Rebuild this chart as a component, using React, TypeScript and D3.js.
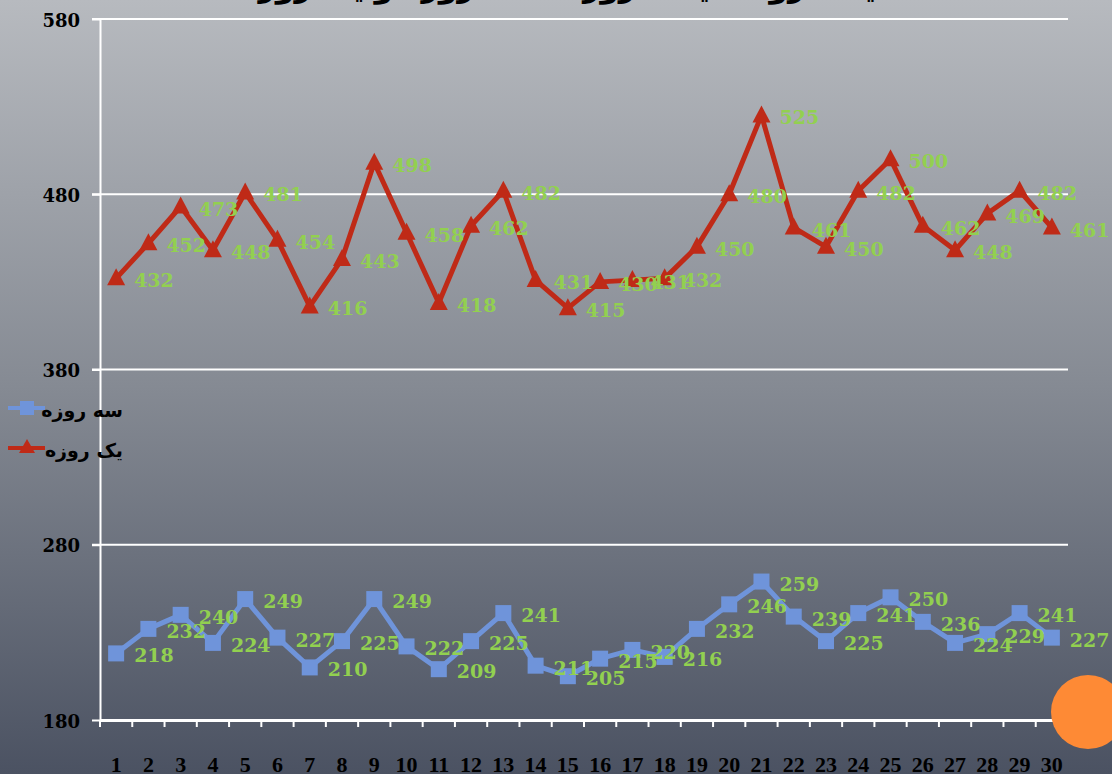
import React, { useRef, useEffect } from 'react';
import * as d3 from 'd3';

const days = d3.range(1, 31).map(String);
const oneDay = [432, 452, 473, 448, 481, 454, 416, 443, 498, 458, 418, 462, 482, 431, 415, 430, 431, 432, 450, 480, 525, 461, 450, 482, 500, 462, 448, 469, 482, 461];
const threeDay = [218, 232, 240, 224, 249, 227, 210, 225, 249, 222, 209, 225, 241, 211, 205, 215, 220, 216, 232, 246, 259, 239, 225, 241, 250, 236, 224, 229, 241, 227];
const yTicks = [180, 280, 380, 480, 580];
const seriesNames = ['سه روزه', 'یک روزه'];
const title = 'مقایسه روند قیمت روزانه سه روزه و یک روزه';

const App = () => {
  const ref = useRef(null);

  useEffect(() => {
    const svg = d3.select(ref.current);
    svg.selectAll('*').remove();
    const width = 1112;
    const height = 774;
    const left = 100, right = 1068, top = 19, bottom = 720;

    // background gradient
    const defs = svg.append('defs');
    const grad = defs.append('linearGradient').attr('id', 'bg').attr('x1', 0).attr('y1', 0).attr('x2', 0).attr('y2', 1);
    grad.append('stop').attr('offset', '0%').attr('stop-color', '#b7babf');
    grad.append('stop').attr('offset', '50%').attr('stop-color', '#858a93');
    grad.append('stop').attr('offset', '100%').attr('stop-color', '#4b5262');
    svg.append('rect').attr('width', width).attr('height', height).attr('fill', 'url(#bg)');

    const x = d3.scaleBand().domain(days).range([left, right]);
    const y = d3.scaleLinear().domain([180, 580]).range([bottom, top]);

    // title (cut off by the top edge)
    svg.append('text')
      .attr('x', 584).attr('y', -3)
      .attr('text-anchor', 'middle')
      .attr('font-family', 'DejaVu Sans').attr('font-weight', 'bold').attr('font-size', 30)
      .attr('fill', '#000')
      .text(title);

    // gridlines
    svg.append('g').selectAll('line').data(yTicks.filter(d => d > 180)).join('line')
      .attr('x1', left - 8).attr('x2', right)
      .attr('y1', d => y(d)).attr('y2', d => y(d))
      .attr('stroke', '#fff').attr('stroke-width', 2);

    // y axis
    const yAxis = svg.append('g').attr('transform', `translate(${left},0)`)
      .call(d3.axisLeft(y).tickValues(yTicks).tickSize(8).tickSizeOuter(0).tickPadding(12));
    yAxis.select('.domain').attr('stroke', '#fff').attr('stroke-width', 2);
    yAxis.selectAll('line').attr('stroke', '#fff').attr('stroke-width', 2);
    yAxis.selectAll('text')
      .attr('font-family', 'DejaVu Serif').attr('font-weight', 'bold').attr('font-size', 18)
      .attr('fill', '#000').attr('dy', '0.4em');

    // x axis
    const xAxis = svg.append('g').attr('transform', `translate(0,${bottom})`)
      .call(d3.axisBottom(x).tickSize(0).tickPadding(36));
    xAxis.select('.domain').attr('stroke', '#fff').attr('stroke-width', 3);
    xAxis.selectAll('text')
      .attr('font-family', 'Liberation Serif').attr('font-weight', 'bold').attr('font-size', 22)
      .attr('fill', '#000');
    svg.append('g').selectAll('line').data(d3.range(31)).join('line')
      .attr('x1', i => left + i * x.step()).attr('x2', i => left + i * x.step())
      .attr('y1', bottom).attr('y2', bottom + 7)
      .attr('stroke', '#fff').attr('stroke-width', 2);

    const cx = d => x(d) + x.bandwidth() / 2;

    const drawSeries = (values, color, marker) => {
      const line = d3.line().x((d, i) => cx(days[i])).y(d => y(d));
      svg.append('path').datum(values).attr('d', line)
        .attr('fill', 'none').attr('stroke', color).attr('stroke-width', 5).attr('stroke-linejoin', 'round');
      const g = svg.append('g');
      values.forEach((v, i) => {
        const px = cx(days[i]), py = y(v);
        if (marker === 'square') {
          g.append('rect').attr('x', px - 8).attr('y', py - 8).attr('width', 16).attr('height', 16).attr('fill', color);
        } else {
          g.append('path').attr('d', `M${px},${py - 10}L${px + 9},${py + 7}L${px - 9},${py + 7}Z`).attr('fill', color);
        }
      });
      svg.append('g').selectAll('text').data(values).join('text')
        .attr('x', (d, i) => cx(days[i]) + 18)
        .attr('y', d => y(d) + 9)
        .attr('font-family', 'DejaVu Serif').attr('font-weight', 'bold').attr('font-size', 19)
        .attr('fill', '#92d050')
        .text(d => d);
    };

    drawSeries(oneDay, '#bf2a17', 'triangle');
    drawSeries(threeDay, '#6f94da', 'square');

    // legend
    const legend = svg.append('g');
    [['#6f94da', 'square'], ['#bf2a17', 'triangle']].forEach(([color, marker], i) => {
      const ly = 408 + i * 40;
      legend.append('line').attr('x1', 8).attr('x2', 45).attr('y1', ly).attr('y2', ly)
        .attr('stroke', color).attr('stroke-width', 4);
      if (marker === 'square') {
        legend.append('rect').attr('x', 20).attr('y', ly - 7).attr('width', 14).attr('height', 14).attr('fill', color);
      } else {
        legend.append('path').attr('d', `M27,${ly - 9}L35,${ly + 5}L19,${ly + 5}Z`).attr('fill', color);
      }
      legend.append('text')
        .attr('x', 123).attr('y', ly + 9)
        .attr('text-anchor', 'end')
        .attr('font-family', 'DejaVu Sans').attr('font-weight', 'bold').attr('font-size', 19)
        .attr('fill', '#000')
        .text(seriesNames[i]);
    });

    // orange circle
    svg.append('circle').attr('cx', 1088).attr('cy', 712).attr('r', 37).attr('fill', '#fe8a35');
  }, []);

  return (
    <svg ref={ref} width="1112" height="774" style={{ position: 'absolute', left: 0, top: 0 }}></svg>
  );
};

export default App;
